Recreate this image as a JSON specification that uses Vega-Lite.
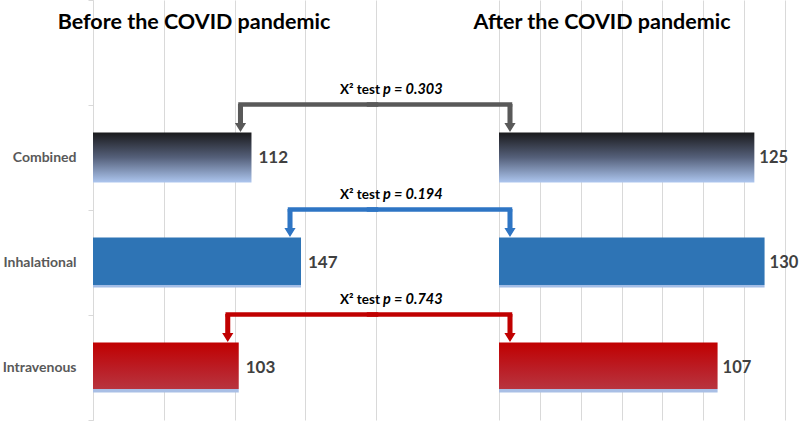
{
  "$schema": "https://vega.github.io/schema/vega-lite/v6.json",
  "padding": {"top": -7, "left": 2, "right": 0, "bottom": 0},
  "autosize": {"type": "pad"},
  "bounds": "flush",
  "spacing": 123,
  "config": {"view": {"stroke": null}, "font": "Lato"},
  "data": {"values": [
    {"cat": "Combined", "before": 112, "after": 125, "test": "X² test", "p": "p = 0.303"},
    {"cat": "Inhalational", "before": 147, "after": 130, "test": "X² test", "p": "p = 0.194"},
    {"cat": "Intravenous", "before": 103, "after": 107, "test": "X² test", "p": "p = 0.743"}
  ]},
  "resolve": {"scale": {"x": "independent", "y": "independent"}},
  "hconcat": [
    {
      "width": 283,
      "height": 420,
      "encoding": {
        "y": {"field": "cat", "type": "nominal", "title": null,
          "scale": {"domain": ["", "Combined", "Inhalational", "Intravenous"], "paddingInner": 0, "paddingOuter": 0},
          "axis": {"labelColor": "#595959", "labelFontSize": 14, "labelFontWeight": "bold", "labelPadding": 12, "tickBand": "extent", "tickSize": 5, "tickColor": "#d9d9d9", "domainColor": "#d9d9d9", "grid": false}
        }
      },
      "layer": [
        {
          "transform": [{"filter": "datum.cat === 'Combined'"}],
          "mark": {"type": "bar", "height": {"band": 0.476}, "color": {"gradient": "linear", "x1": 0, "y1": 0, "x2": 0, "y2": 1, "stops": [{"offset": 0, "color": "#1a1a1c"}, {"offset": 0.5, "color": "#55607a"}, {"offset": 1, "color": "#adc6ef"}]}},
          "encoding": {"x": {"field": "before", "type": "quantitative", "scale": {"domain": [0, 200], "nice": false}, "axis": {"grid": true, "gridColor": "#d9d9d9", "labels": false, "ticks": false, "domain": false, "title": null, "values": [0, 50, 100, 150, 200]}}}
        },
        {
          "transform": [{"filter": "datum.cat === 'Inhalational'"}],
          "mark": {"type": "bar", "height": {"band": 0.476}, "color": {"gradient": "linear", "x1": 0, "y1": 0, "x2": 0, "y2": 1, "stops": [{"offset": 0, "color": "#2e74b5"}, {"offset": 0.94, "color": "#2e74b5"}, {"offset": 0.95, "color": "#a3bde6"}, {"offset": 1, "color": "#a3bde6"}]}},
          "encoding": {"x": {"field": "before", "type": "quantitative"}}
        },
        {
          "transform": [{"filter": "datum.cat === 'Intravenous'"}],
          "mark": {"type": "bar", "height": {"band": 0.476}, "color": {"gradient": "linear", "x1": 0, "y1": 0, "x2": 0, "y2": 1, "stops": [{"offset": 0, "color": "#c00000"}, {"offset": 0.5, "color": "#bb1c24"}, {"offset": 0.93, "color": "#b8353f"}, {"offset": 0.94, "color": "#a9bfe5"}, {"offset": 1, "color": "#a9bfe5"}]}},
          "encoding": {"x": {"field": "before", "type": "quantitative"}}
        },
        {
          "mark": {"type": "text", "align": "left", "baseline": "middle", "dx": 7, "fontSize": 17, "fontWeight": "bold", "color": "#404040"},
          "encoding": {"x": {"field": "before", "type": "quantitative"}, "text": {"field": "before"}}
        },
        {
          "mark": {"type": "rule", "strokeWidth": 4.5, "strokeCap": "square", "xOffset": -11, "yOffset": -0.5},
          "encoding": {
            "x": {"field": "before", "type": "quantitative"},
            "x2": {"datum": 200},
            "y": {"field": "cat", "type": "nominal", "bandPosition": 0},
            "color": {"field": "cat", "type": "nominal", "scale": {"domain": ["Combined", "Inhalational", "Intravenous"], "range": ["#595959", "#2e75c4", "#c00000"]}, "legend": null}
          }
        },
        {
          "mark": {"type": "point", "shape": "M-0.18,-1L0.18,-1L0.18,0.36L0.4,0.36L0,1L-0.4,0.36L-0.18,0.36Z", "filled": true, "size": 784, "opacity": 1, "strokeWidth": 0, "xOffset": -11, "yOffset": 13},
          "encoding": {
            "x": {"field": "before", "type": "quantitative"},
            "y": {"field": "cat", "type": "nominal", "bandPosition": 0},
            "color": {"field": "cat", "type": "nominal", "scale": {"domain": ["Combined", "Inhalational", "Intravenous"], "range": ["#595959", "#2e75c4", "#c00000"]}, "legend": null}
          }
        },
        {
          "data": {"values": [{"t": "Before the COVID pandemic"}]},
          "mark": {"type": "text", "align": "center", "baseline": "alphabetic", "dx": 101, "dy": 29, "fontSize": 21.5, "fontWeight": "bold", "color": "#000000"},
          "encoding": {
            "x": {"datum": 0, "type": "quantitative"},
            "y": {"datum": "", "type": "nominal", "bandPosition": 0},
            "text": {"field": "t"}
          }
        }
      ]
    },
    {
      "width": 286,
      "height": 420,
      "encoding": {
        "y": {"field": "cat", "type": "nominal", "title": null,
          "scale": {"domain": ["", "Combined", "Inhalational", "Intravenous"], "paddingInner": 0, "paddingOuter": 0},
          "axis": null
        }
      },
      "layer": [
        {
          "transform": [{"filter": "datum.cat === 'Combined'"}],
          "mark": {"type": "bar", "height": {"band": 0.476}, "color": {"gradient": "linear", "x1": 0, "y1": 0, "x2": 0, "y2": 1, "stops": [{"offset": 0, "color": "#1a1a1c"}, {"offset": 0.5, "color": "#55607a"}, {"offset": 1, "color": "#adc6ef"}]}},
          "encoding": {"x": {"field": "after", "type": "quantitative", "scale": {"domain": [0, 140], "nice": false}, "axis": {"grid": true, "gridColor": "#d9d9d9", "labels": false, "ticks": false, "domain": false, "title": null, "values": [0, 20, 40, 60, 80, 100, 120, 140]}}}
        },
        {
          "transform": [{"filter": "datum.cat === 'Inhalational'"}],
          "mark": {"type": "bar", "height": {"band": 0.476}, "color": {"gradient": "linear", "x1": 0, "y1": 0, "x2": 0, "y2": 1, "stops": [{"offset": 0, "color": "#2e74b5"}, {"offset": 0.94, "color": "#2e74b5"}, {"offset": 0.95, "color": "#a3bde6"}, {"offset": 1, "color": "#a3bde6"}]}},
          "encoding": {"x": {"field": "after", "type": "quantitative"}}
        },
        {
          "transform": [{"filter": "datum.cat === 'Intravenous'"}],
          "mark": {"type": "bar", "height": {"band": 0.476}, "color": {"gradient": "linear", "x1": 0, "y1": 0, "x2": 0, "y2": 1, "stops": [{"offset": 0, "color": "#c00000"}, {"offset": 0.5, "color": "#bb1c24"}, {"offset": 0.93, "color": "#b8353f"}, {"offset": 0.94, "color": "#a9bfe5"}, {"offset": 1, "color": "#a9bfe5"}]}},
          "encoding": {"x": {"field": "after", "type": "quantitative"}}
        },
        {
          "mark": {"type": "text", "align": "left", "baseline": "middle", "dx": 5, "fontSize": 16.5, "fontWeight": "bold", "color": "#404040"},
          "encoding": {"x": {"field": "after", "type": "quantitative"}, "text": {"field": "after"}}
        },
        {
          "mark": {"type": "rule", "strokeWidth": 4.5, "strokeCap": "square", "xOffset": -130, "x2Offset": 11, "yOffset": -0.5},
          "encoding": {
            "x": {"datum": 0, "type": "quantitative"},
            "x2": {"datum": 0},
            "y": {"field": "cat", "type": "nominal", "bandPosition": 0},
            "color": {"field": "cat", "type": "nominal", "scale": {"domain": ["Combined", "Inhalational", "Intravenous"], "range": ["#595959", "#2e75c4", "#c00000"]}, "legend": null}
          }
        },
        {
          "mark": {"type": "point", "shape": "M-0.18,-1L0.18,-1L0.18,0.36L0.4,0.36L0,1L-0.4,0.36L-0.18,0.36Z", "filled": true, "size": 784, "opacity": 1, "strokeWidth": 0, "xOffset": 11, "yOffset": 13},
          "encoding": {
            "x": {"datum": 0, "type": "quantitative"},
            "y": {"field": "cat", "type": "nominal", "bandPosition": 0},
            "color": {"field": "cat", "type": "nominal", "scale": {"domain": ["Combined", "Inhalational", "Intravenous"], "range": ["#595959", "#2e75c4", "#c00000"]}, "legend": null}
          }
        },
        {
          "mark": {"type": "text", "align": "right", "baseline": "alphabetic", "dx": -119, "dy": -11, "fontSize": 13.5, "fontWeight": "bold", "color": "#000000"},
          "encoding": {
            "x": {"datum": 0, "type": "quantitative"},
            "y": {"field": "cat", "type": "nominal", "bandPosition": 0},
            "text": {"field": "test"}
          }
        },
        {
          "mark": {"type": "text", "align": "left", "baseline": "alphabetic", "dx": -116, "dy": -11, "fontSize": 14.5, "fontWeight": "bold", "fontStyle": "italic", "color": "#000000"},
          "encoding": {
            "x": {"datum": 0, "type": "quantitative"},
            "y": {"field": "cat", "type": "nominal", "bandPosition": 0},
            "text": {"field": "p"}
          }
        },
        {
          "data": {"values": [{"t": "After the COVID pandemic"}]},
          "mark": {"type": "text", "align": "center", "baseline": "alphabetic", "dx": 103, "dy": 29, "fontSize": 21.5, "fontWeight": "bold", "color": "#000000"},
          "encoding": {
            "x": {"datum": 0, "type": "quantitative"},
            "y": {"datum": "", "type": "nominal", "bandPosition": 0},
            "text": {"field": "t"}
          }
        }
      ]
    }
  ]
}
